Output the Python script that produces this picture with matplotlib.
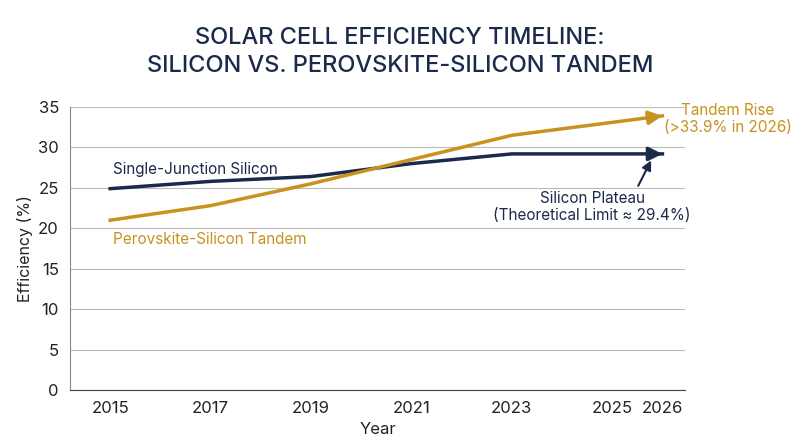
import matplotlib
matplotlib.use("Agg")
import matplotlib.pyplot as plt

years = [2015, 2017, 2019, 2021, 2023, 2026]
silicon = [24.9, 25.8, 26.4, 28.0, 29.2, 29.2]
tandem = [21.0, 22.8, 25.5, 28.5, 31.5, 33.9]
xticks = [2015, 2017, 2019, 2021, 2023, 2025, 2026]
yticks = [0, 5, 10, 15, 20, 25, 30, 35]

navy = "#1b2a4a"
gold = "#c8921e"
plt.rcParams['font.family'] = ['Inter', 'DejaVu Sans']

fig = plt.figure(figsize=(8, 4.47), dpi=100)
ax = fig.add_axes([70/800, 1-390/447, 615/800, 283/447])


def arrow_line(xs, ys, color):
    # full line, then arrowhead drawn on the last segment
    ax.plot(xs, ys, color=color, lw=2.5)
    ax.annotate("", xy=(xs[-1], ys[-1]), xytext=(xs[-1] - 0.3, ys[-1] - (ys[-1] - ys[-2]) * 0.3 / (xs[-1] - xs[-2])),
                arrowprops=dict(arrowstyle="-|>", color=color, lw=2.5, mutation_scale=20,
                                shrinkA=0, shrinkB=0))


arrow_line(years, silicon, navy)
arrow_line(years, tandem, gold)

ax.set_xlim(2014.2, 2026.45)
ax.set_ylim(0, 35)
ax.set_xticks(xticks)
ax.set_yticks(yticks)
ax.tick_params(labelsize=12, length=0, pad=8, colors="#222222")
ax.grid(axis='y', color="#bbbbbb", lw=0.8)
ax.set_axisbelow(True)
for s in ['top', 'right']:
    ax.spines[s].set_visible(False)
ax.spines['left'].set_color("#888888")
ax.spines['bottom'].set_color("#444444")
ax.set_xlabel("Year", fontsize=12, color="#222222")
ax.set_ylabel("Efficiency (%)", fontsize=11.5, color="#222222")

ax.text(2015.05, 26.3, "Single-Junction Silicon", color=navy, fontsize=11, va='bottom')
ax.text(2015.05, 19.6, "Perovskite-Silicon Tandem", color=gold, fontsize=11, va='top')
ax.text(2027.3, 33.5, "Tandem Rise\n(>33.9% in 2026)", color=gold, fontsize=11,
        ha='center', va='center', clip_on=False)
ax.annotate("Silicon Plateau\n(Theoretical Limit ≈ 29.4%)", xy=(2025.8, 28.7),
            xytext=(2024.6, 22.6), color=navy, fontsize=11, ha='center', va='center',
            arrowprops=dict(arrowstyle="-|>", color=navy, lw=1.5, mutation_scale=14,
                            shrinkA=2, relpos=(0.72, 1.0)))

fig.suptitle("SOLAR CELL EFFICIENCY TIMELINE:\nSILICON VS. PEROVSKITE-SILICON TANDEM",
             y=0.94, fontsize=17, color=navy, fontweight='medium', linespacing=1.35)

fig.savefig("out.png", dpi=100)
